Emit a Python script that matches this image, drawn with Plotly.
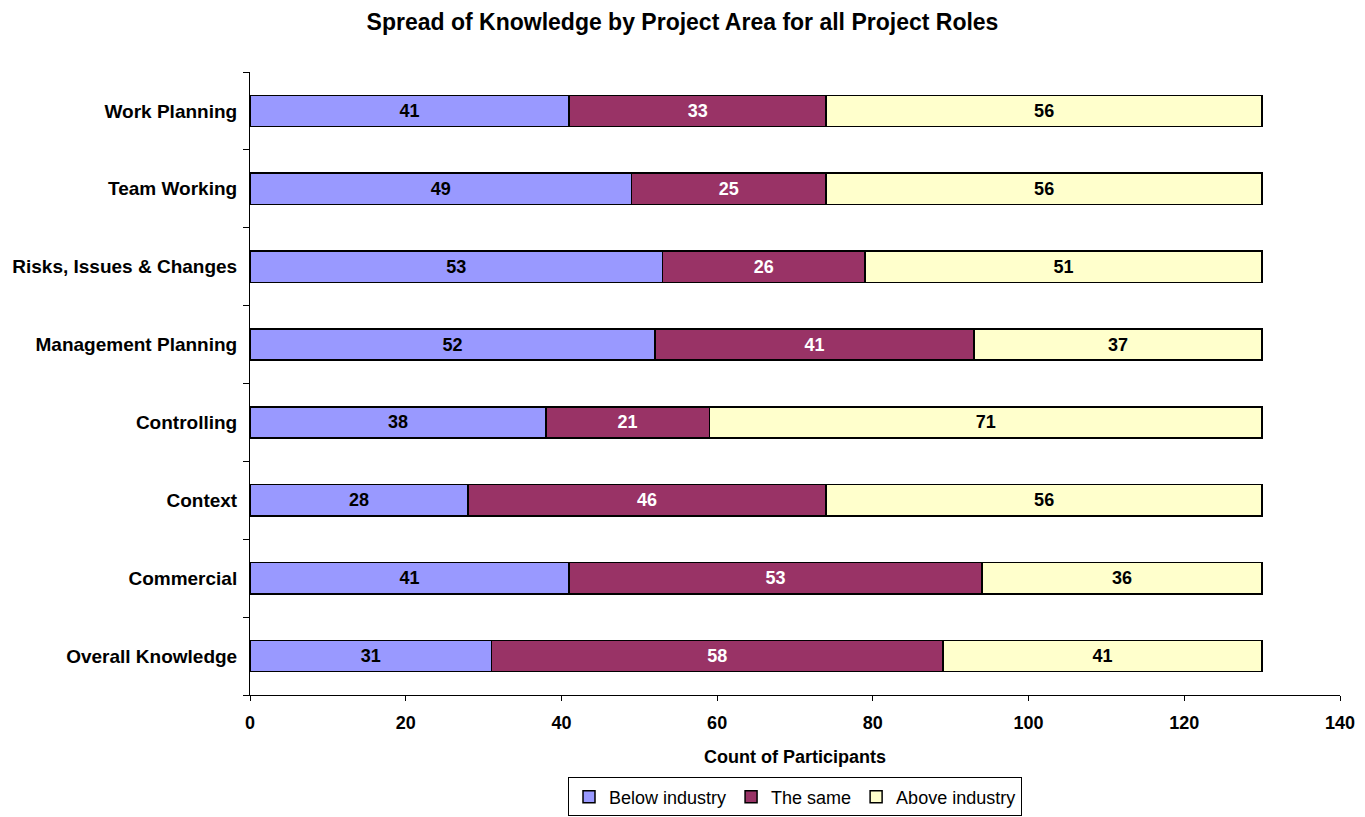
import plotly.graph_objects as go

categories = ["Overall Knowledge", "Commercial", "Context", "Controlling",
              "Management Planning", "Risks, Issues & Changes", "Team Working", "Work Planning"]
below_industry = [31, 41, 28, 38, 52, 53, 49, 41]
the_same = [58, 53, 46, 21, 41, 26, 25, 33]
above_industry = [41, 36, 56, 71, 37, 51, 56, 56]

x_ticks = [0, 20, 40, 60, 80, 100, 120, 140]

series = [
    ("Below industry", below_industry, "#9999FF", "black"),
    ("The same", the_same, "#993366", "white"),
    ("Above industry", above_industry, "#FFFFCC", "black"),
]

font_family = "Liberation Sans, Arial, sans-serif"

fig = go.Figure()
for name, vals, color, tcolor in series:
    fig.add_trace(go.Bar(
        name=name, y=categories, x=vals, orientation="h",
        marker=dict(color=color, line=dict(color="black", width=1.5)),
        text=[str(v) for v in vals], textposition="inside",
        insidetextanchor="middle", constraintext="none",
        textfont=dict(family=font_family, size=18, color=tcolor),
        texttemplate="<b>%{text}</b>",
    ))

fig.update_layout(
    barmode="stack",
    bargap=0.6,
    width=1365, height=817,
    paper_bgcolor="white", plot_bgcolor="white",
    margin=dict(l=250, r=25, t=72, b=122, autoexpand=False),
    font=dict(family=font_family, size=18, color="black"),
    title=dict(text="<b>Spread of Knowledge by Project Area for all Project Roles</b>",
               x=0.5, xref="container", xanchor="center", y=0.973, yanchor="middle",
               font=dict(size=23)),
    legend=dict(orientation="h", x=0.5, xanchor="center", y=-0.195, yanchor="bottom",
                bordercolor="black", borderwidth=1, font=dict(size=18),
                traceorder="normal", itemwidth=30),
    xaxis=dict(range=[0, 140], tickvals=x_ticks,
               ticktext=[f"<b>{t}</b>" for t in x_ticks],
               showgrid=False, zeroline=False, automargin=False,
               showline=True, linecolor="black", linewidth=1,
               ticks="outside", ticklen=5, tickcolor="black",
               tickfont=dict(size=18), ticklabelstandoff=6,
               title=dict(text="<b>Count of Participants</b>", font=dict(size=18), standoff=18)),
    yaxis=dict(showgrid=False, showline=True, linecolor="black", linewidth=1,
               ticks="outside", ticklen=6, tickcolor="black", tickson="boundaries",
               tickfont=dict(size=19), tickprefix="<b>", ticksuffix="</b>",
               ticklabelstandoff=8, automargin=False),
)

fig.write_html("out.html")
